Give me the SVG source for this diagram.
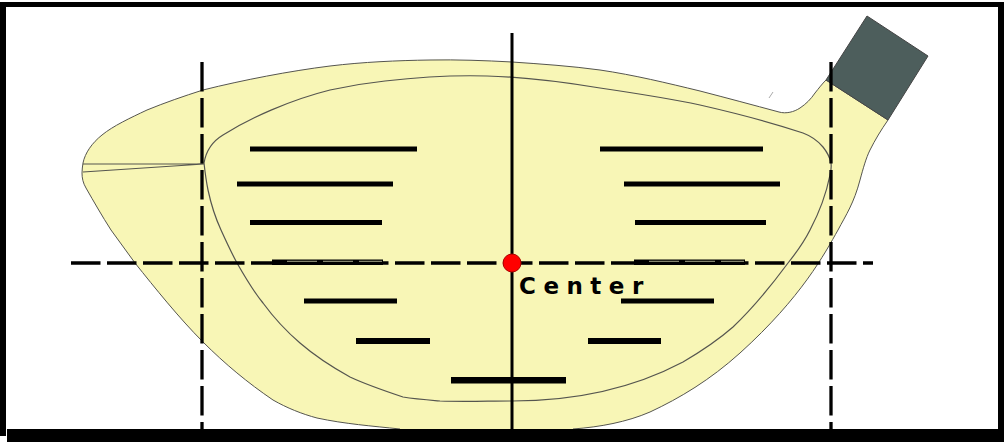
<svg xmlns="http://www.w3.org/2000/svg" width="1004" height="446" viewBox="0 0 1004 446">
<style>
.bar{fill:#000}
.slit{stroke:#a8a88c;stroke-width:1;fill:none}
.dash{stroke:#000;stroke-width:3.300;fill:none;stroke-dasharray:29.500 6.500}
.outline{stroke:#55554f;stroke-width:1.200;fill:none}
</style>
<rect width="1004" height="446" fill="#fff"/>
<g id="club">
<path id="body" d="M83 163C85 153 92 143 102 135C113 126 130 118 147 110C164 103 184 96 203 90C243 80 290 71 330 66C363 62 397 60.500 430 60C457 59.500 485 60.500 512 62C541 64 571 66 600 70C634 75 667 83 700 91C727 98 753 105 779 112C786 114 794 112 800 108C806 104 811 99 815 93C819 88 822 84 826 80L888 120C881 130 875 140 870 150C866 158 863 169 860 180C854 203 846 215 838 230C825 253 802 297 740 353C710 380 680 398 650 412C627 422 600 427 573 429L573 432L400 432L400 429C372 426 345 424 317 418C302 414 287 408 273 400C248 383 225 364 203 342C179 318 155 288 135 263C127 252 119 241 111 230C102 216 94 202 86 188C83 183 82 178 82 173C82 170 82.500 166 83 163Z" fill="#f8f6b6" stroke="#55554f" stroke-width="1"/>
<path id="face" class="outline" d="M204 163C206 151 213 141 223 135C250 118 290 100 330 90C348 86 366 83 385 81C420 77 455 75 487 76C525 77 563 82 600 88C634 93 667 98 700 105C735 113 770 122 803 133C811 136 818 141 823 147C827 152 830 158 831 163C831.500 167 831 171 830 175C826 195 819 213 810 230C804 242 796 253 788 263C771 286 753 308 733 327C717 341 700 352 683 362C630 390 570 401 512 401C488 401 464 402 440 401C428 400 415 399 403 397C385 391 367 385 350 377C332 367 315 356 300 343C286 331 274 318 263 303C253 291 245 277 237 263C231 252 226 241 221 230C215 217 211 204 208 190C206 180 205 172 204 163"/>
<path class="outline" d="M83 164H203M83 172L204 164"/>
<path d="M769 98L773 92" stroke="#aaa" stroke-width="1" fill="none"/>
<polygon id="hosel" points="867,16 928,56 888,120 826,80" fill="#4d5e5c" stroke="#444" stroke-width="1"/>
</g>
<g id="grooves">
<rect class="bar" x="250" y="146.500" width="167" height="5"/>
<rect class="bar" x="237" y="181.500" width="156" height="5"/>
<rect class="bar" x="250" y="220" width="132" height="5"/>
<rect class="bar" x="272" y="259.500" width="111" height="5.500"/>
<rect class="bar" x="304" y="298.500" width="93" height="5"/>
<rect class="bar" x="356" y="338" width="74" height="6"/>
<rect class="bar" x="451" y="377" width="115" height="6.500"/>
<rect class="bar" x="600" y="146.500" width="163" height="5"/>
<rect class="bar" x="624" y="181.500" width="156" height="5"/>
<rect class="bar" x="635" y="220" width="131" height="5"/>
<rect class="bar" x="634" y="259.500" width="111" height="5.500"/>
<rect class="bar" x="621" y="298.500" width="93" height="5"/>
<rect class="bar" x="588" y="338" width="73" height="6"/>
</g>
<g id="connectors">
<path class="dash" d="M202 62V429"/>
<path class="dash" d="M831 62V429"/>
<path class="dash" d="M71 263H873"/>
<path d="M512 33V429" stroke="#000" stroke-width="3" fill="none"/>
</g>
<g id="slits">
<path class="slit" d="M287 261.300H317M323 261.300H353M359 261.300H382M649 261.300H679M685 261.300H715M721 261.300H744"/>
</g>
<g id="center">
<circle cx="512" cy="263" r="9" fill="#f00" stroke="#a00" stroke-width="1"/>
<text x="519" y="294" font-family="'DejaVu Sans',sans-serif" font-weight="700" font-size="23" letter-spacing="7.500" fill="#000">Center</text>
</g>
<g id="frame" fill="#000">
<rect x="0" y="2" width="1004" height="5"/>
<rect x="0" y="2" width="6" height="434"/>
<rect x="998" y="2" width="6" height="440"/>
<rect x="7" y="429" width="997" height="13"/>
</g>
</svg>
